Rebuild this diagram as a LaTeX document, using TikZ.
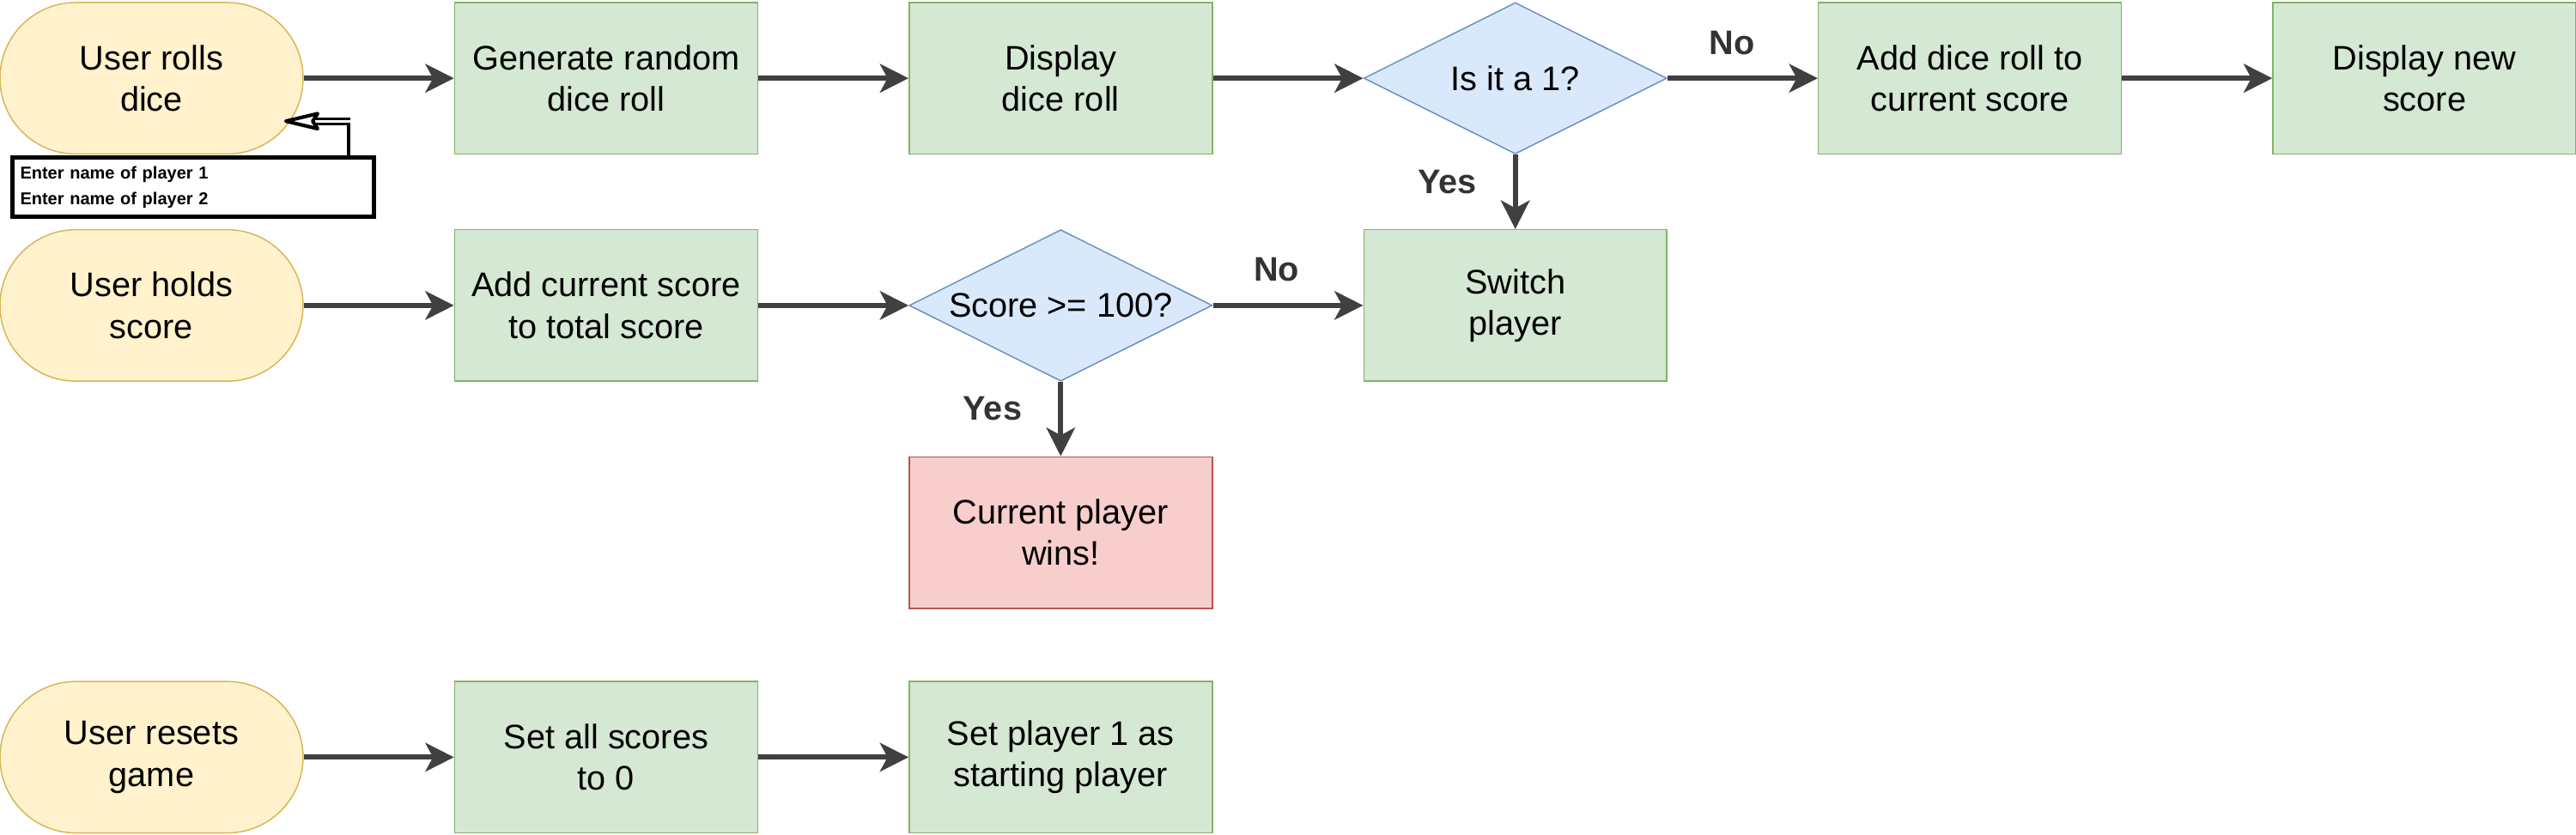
\documentclass[tikz,border=0pt]{standalone}
\usepackage{fontspec}
\setmainfont{Liberation Sans}
\usetikzlibrary{shapes.geometric,arrows.meta,calc}
\definecolor{pillfill}{HTML}{FFF2CC}
\definecolor{pilldraw}{HTML}{D6B656}
\definecolor{greenfill}{HTML}{D5E8D4}
\definecolor{greendraw}{HTML}{82B366}
\definecolor{bluefill}{HTML}{DAE8FC}
\definecolor{bluedraw}{HTML}{6C8EBF}
\definecolor{redfill}{HTML}{F8CECC}
\definecolor{reddraw}{HTML}{B85450}
\definecolor{arrowgray}{HTML}{404040}
\definecolor{labelgray}{HTML}{333333}
\tikzset{
  basenode/.style={minimum width=120pt, minimum height=60pt, inner sep=0pt, align=center,
    font=\fontsize{13.5}{16.4}\selectfont, line width=0.5pt},
  pill/.style={basenode, rectangle, rounded corners=30pt, fill=pillfill, draw=pilldraw},
  procbox/.style={basenode, rectangle, fill=greenfill, draw=greendraw},
  endbox/.style={basenode, rectangle, fill=redfill, draw=reddraw},
  decision/.style={basenode, diamond, aspect=2, fill=bluefill, draw=bluedraw},
  arr/.style={draw=arrowgray, line width=2pt, -{Stealth[length=11.3pt, width=11.3pt, inset=3pt, fill=arrowgray]}},
  lbl/.style={font=\bfseries\fontsize{13.5}{16}\selectfont, text=labelgray, inner sep=0pt},
  notebox/.style={draw=black, line width=1.7pt, fill=white, minimum width=143pt, minimum height=23.5pt,
    inner sep=0pt, text width=137pt, align=left, font=\bfseries\fontsize{6.8}{10}\selectfont},
  openshaft/.style={draw=black, double=white, line width=1pt, double distance=1.1pt},
  openhead/.style={draw=black, fill=white, line width=1.4pt, line join=round}
}
\begin{document}
\begin{tikzpicture}[x=1pt,y=1pt]
\useasboundingbox (0,0) rectangle (1020,-330.5);
% row 1
\node[pill] (roll) at (60,-31) {User rolls\\dice};
\node[procbox] (gen) at (240,-31) {Generate random\\dice roll};
\node[procbox] (disp) at (420,-31) {Display\\dice roll};
\node[decision] (isone) at (600,-31) {\makebox[0pt]{Is it a 1?}};
\node[procbox] (add) at (780,-31) {Add dice roll to\\current score};
\node[procbox] (dispnew) at (960,-31) {Display new\\score};
% row 2
\node[pill] (hold) at (60,-121) {User holds\\score};
\node[procbox] (addtot) at (240,-121) {Add current score\\to total score};
\node[decision] (hundred) at (420,-121) {\makebox[0pt]{Score >= 100?}};
\node[procbox] (switch) at (600,-121) {Switch\\player};
% row 3
\node[endbox] (wins) at (420,-211) {Current player\\wins!};
% row 4
\node[pill] (reset) at (60,-300) {User resets\\game};
\node[procbox] (setzero) at (240,-300) {Set all scores\\to 0};
\node[procbox] (setone) at (420,-300) {Set player 1 as\\starting player};
% note box and its hollow arrow
\node[notebox] (names) at (76.5,-74.25) {Enter name of player 1\\Enter name of player 2};
\coordinate (tip) at ($(roll.center)+(53.2,-17)$);
\coordinate (nstart) at ([xshift=61.5pt]names.north);
\coordinate (corner) at (nstart |- tip);
\coordinate (headbase) at ($(tip)+(12.6,0)$);
\draw[draw=black, line width=1.5pt] (nstart) -- ([yshift=1.5pt]corner);
\draw[openshaft] ([xshift=0.75pt]corner) -- ([xshift=-1pt]headbase);
\draw[openhead] (tip) -- ($(headbase)+(0,3)$) -- ($(headbase)+(-2,0)$) -- ($(headbase)+(0,-3)$) -- cycle;
% arrows
\draw[arr] (roll) -- (gen);
\draw[arr] (gen) -- (disp);
\draw[arr] (disp) -- (isone);
\draw[arr] (isone) -- (add);
\draw[arr] (add) -- (dispnew);
\draw[arr] (isone) -- (switch);
\draw[arr] (hold) -- (addtot);
\draw[arr] (addtot) -- (hundred);
\draw[arr] (hundred) -- (switch);
\draw[arr] (hundred) -- (wins);
\draw[arr] (reset) -- (setzero);
\draw[arr] (setzero) -- (setone);
% labels
\node[lbl] (l1) at (685.8,-16.9) {No};
\node[lbl] (l2) at (573,-72.2) {Yes};
\node[lbl] (l3) at (505.5,-106.7) {No};
\node[lbl] (l4) at (393,-162) {Yes};
\end{tikzpicture}
\end{document}
